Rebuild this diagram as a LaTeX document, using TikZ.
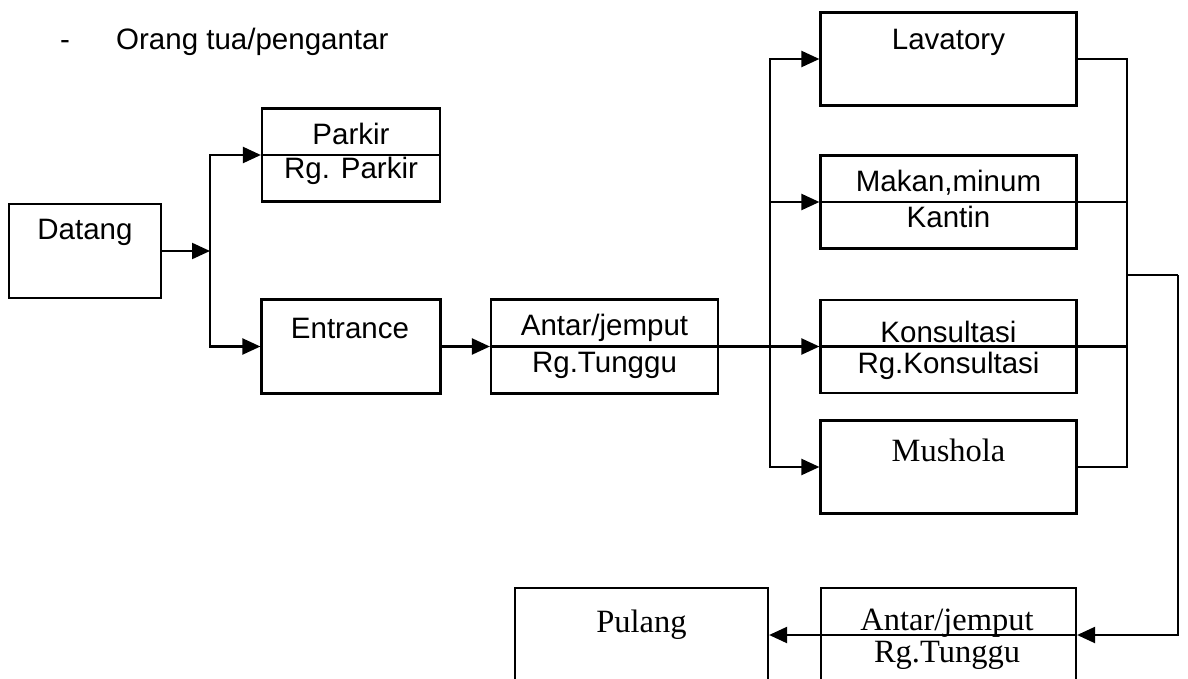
\documentclass[tikz,border=0pt]{standalone}
\usepackage{fontspec}
\setmainfont{Liberation Sans}
\newfontfamily\timesf{Liberation Serif}
\usetikzlibrary{arrows.meta}
\begin{document}
\begin{tikzpicture}[x=1pt,y=-1pt,
  box/.style={draw, line width=2.2pt, inner sep=0pt, minimum height=93pt},
  ln/.style={line width=2.2pt},
  arr/.style={line width=2.2pt, -{Triangle[length=18pt,width=16pt]}},
  lbl/.style={anchor=base, inner sep=0pt, font=\fontsize{29.5}{31}\selectfont},
  tlbl/.style={anchor=base, inner sep=0pt, font=\timesf\fontsize{32.5}{34}\selectfont}]
\useasboundingbox (0,0) rectangle (1188,679);
% title
\node[lbl, anchor=base west] (dash) at (60,50) {-};
\node[lbl, anchor=base west] (title) at (116,50) {Orang tua/pengantar};
% boxes
\node[box, minimum width=152pt, minimum height=94pt] (datang) at (85,251) {};
\node[box, minimum width=178pt] (parkir) at (351,155) {};
\node[box, minimum width=179pt, minimum height=94pt] (entrance) at (351,346.5) {};
\node[box, minimum width=227pt, minimum height=94pt] (antar1) at (604.5,346.5) {};
\node[box, minimum width=256pt] (lav) at (948.5,59) {};
\node[box, minimum width=256pt] (makan) at (948.5,202) {};
\node[box, minimum width=256pt] (kons) at (948.5,346.5) {};
\node[box, minimum width=256pt] (mush) at (948.5,467) {};
\node[box, minimum width=253pt, minimum height=94pt] (pulang) at (641.5,635) {};
\node[box, minimum width=255pt, minimum height=94pt] (antar2) at (948.5,635) {};
% labels
\node[lbl] (tdatang) at (85,240) {Datang};
\node[lbl] (tparkir) at (351,145) {Parkir};
\node[lbl] (trgparkir) at (351,179) {Rg. Parkir};
\node[lbl] (tentrance) at (350,338) {Entrance};
\node[lbl] (tantar1) at (604.5,335) {Antar/jemput};
\node[lbl] (trgtunggu1) at (604.5,372) {Rg.Tunggu};
\node[lbl] (tlav) at (948.5,50) {Lavatory};
\node[lbl] (tmakan) at (948.5,192) {Makan,minum};
\node[lbl] (tkantin) at (948.5,227) {Kantin};
\node[lbl] (tkons) at (948.5,342) {Konsultasi};
\node[lbl] (trgkons) at (948.5,373) {Rg.Konsultasi};
\node[tlbl] (tmush) at (948.5,461) {Mushola};
\node[tlbl] (tpulang) at (641.5,632) {Pulang};
\node[tlbl] (tantar2) at (947,630) {Antar/jemput};
\node[tlbl] (trgtunggu2) at (947,662) {Rg.Tunggu};
% junction coordinates
\coordinate (j1) at (210,251);
\coordinate (j2) at (770,346.5);
\coordinate (r1) at (1127,59);
\coordinate (r2) at (1127,275);
\coordinate (r3) at (1127,467);
\coordinate (r4) at (1178,275);
% connectors
\draw[arr] (datang.east) -- (j1);
\draw[arr] (j1) |- (parkir.west);
\draw[arr] (j1) |- (entrance.west);
\draw[ln] (parkir.west) -- (parkir.east);
\draw[arr] (entrance.east) -- (antar1.west);
\draw[ln] (antar1.west) -- (antar1.east);
\draw[arr] (antar1.east) -- (kons.west);
\draw[ln] (kons.west) -- (kons.east) -- (kons.east -| r1);
\draw[arr] (j2) |- (lav.west);
\draw[arr] (j2 |- makan.west) -- (makan.west);
\draw[arr] (j2) |- (mush.west);
\draw[ln] (makan.west) -- (makan.east) -- (makan.east -| r1);
\draw[ln] (lav.east) -- (r1) -- (r3) -- (mush.east);
\draw[ln] (r2) -- (r4);
\draw[arr] (r4) |- (antar2.east);
\draw[ln] (antar2.east) -- (antar2.west);
\draw[arr] (antar2.west) -- (pulang.east);
\end{tikzpicture}
\end{document}
